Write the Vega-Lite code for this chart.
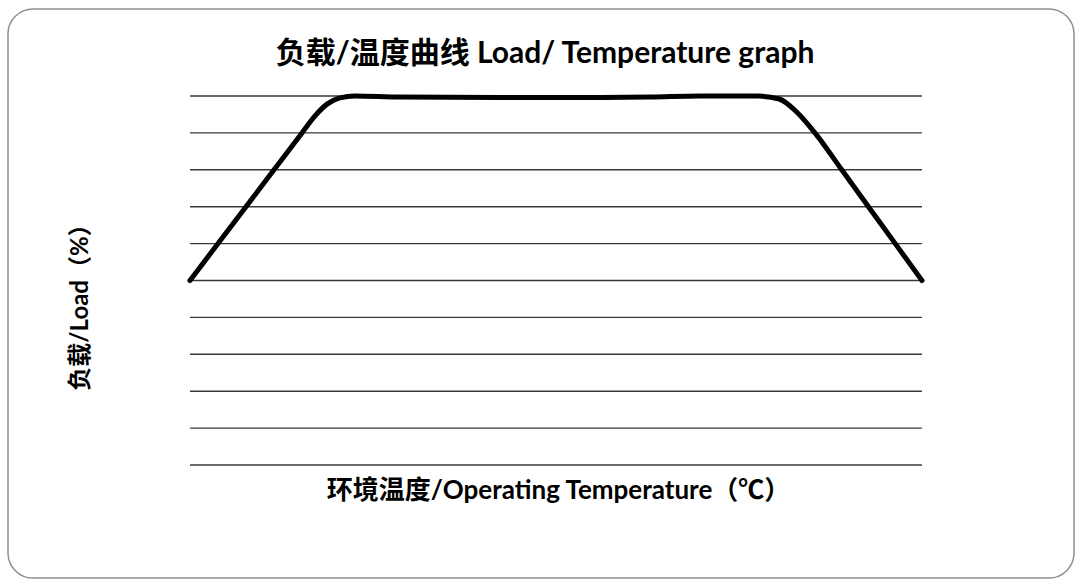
{
  "$schema": "https://vega.github.io/schema/vega-lite/v6.json",
  "width": 1066,
  "height": 569,
  "autosize": "none",
  "padding": {"left": 8, "top": 9, "right": 2, "bottom": 2},
  "background": "white",
  "title": {
    "text": "负载/温度曲线 Load/ Temperature graph",
    "font": "Lato, Noto Sans CJK SC",
    "fontSize": 30,
    "fontWeight": "bold",
    "color": "black",
    "baseline": "middle",
    "offset": -75,
    "dx": 4
  },
  "config": {
    "view": {"stroke": "#8f8f8f", "strokeWidth": 1.5, "cornerRadius": 25}
  },
  "datasets": {
    "levels": [
      {"load": 0}, {"load": 10}, {"load": 20}, {"load": 30}, {"load": 40},
      {"load": 50}, {"load": 60}, {"load": 70}, {"load": 80}, {"load": 90}, {"load": 100}
    ],
    "curve": [
      {"temp": 0, "load": 50},
      {"temp": 3.83, "load": 60},
      {"temp": 7.65, "load": 70},
      {"temp": 11.48, "load": 80},
      {"temp": 15.3, "load": 90},
      {"temp": 17.08, "load": 94.6},
      {"temp": 18.72, "load": 97.8},
      {"temp": 20.49, "load": 99.5},
      {"temp": 22.54, "load": 100},
      {"temp": 28.69, "load": 99.7},
      {"temp": 42.35, "load": 99.6},
      {"temp": 56.01, "load": 99.6},
      {"temp": 62.84, "load": 99.7},
      {"temp": 69.67, "load": 100},
      {"temp": 77.5, "load": 100},
      {"temp": 80.5, "load": 99.2},
      {"temp": 82.92, "load": 95.6},
      {"temp": 85.38, "load": 90},
      {"temp": 89.04, "load": 80},
      {"temp": 92.69, "load": 70},
      {"temp": 96.35, "load": 60},
      {"temp": 100, "load": 50}
    ]
  },
  "layer": [
    {
      "data": {"name": "levels"},
      "mark": {"type": "rule", "color": "#3a3a3a", "strokeWidth": 1.4},
      "encoding": {
        "y": {
          "field": "load", "type": "quantitative",
          "scale": {"domain": [-30.62, 123.58], "nice": false, "zero": false},
          "axis": {
            "title": "负载/Load（%）", "orient": "left",
            "domain": false, "ticks": false, "labels": false, "grid": false,
            "titleFont": "Lato, Noto Sans CJK SC", "titleFontSize": 24, "titleFontWeight": "bold",
            "titleColor": "black", "titleX": 72, "titleY": 292, "titleBaseline": "middle",
            "titleAngle": -90, "titleAlign": "center"
          }
        },
        "x": {
          "datum": 0, "type": "quantitative",
          "scale": {"domain": [-24.86, 120.77], "nice": false, "zero": false},
          "axis": {
            "title": "环境温度/Operating Temperature（℃）",
            "domain": false, "ticks": false, "labels": false, "grid": false,
            "titleFont": "Lato, Noto Sans CJK SC", "titleFontSize": 26, "titleFontWeight": "bold",
            "titleColor": "black", "titleX": 550, "titleY": -88, "titleBaseline": "middle",
            "titleAlign": "center"
          }
        },
        "x2": {"datum": 100}
      }
    },
    {
      "data": {"name": "curve"},
      "mark": {"type": "line", "color": "black", "strokeWidth": 5, "interpolate": "monotone", "strokeCap": "round"},
      "encoding": {
        "x": {
          "field": "temp", "type": "quantitative",
          "axis": {
            "title": "环境温度/Operating Temperature（℃）",
            "domain": false, "ticks": false, "labels": false, "grid": false,
            "titleFont": "Lato, Noto Sans CJK SC", "titleFontSize": 26, "titleFontWeight": "bold",
            "titleColor": "black", "titleX": 550, "titleY": -88, "titleBaseline": "middle",
            "titleAlign": "center"
          }
        },
        "y": {
          "field": "load", "type": "quantitative",
          "axis": {
            "title": "负载/Load（%）", "orient": "left",
            "domain": false, "ticks": false, "labels": false, "grid": false,
            "titleFont": "Lato, Noto Sans CJK SC", "titleFontSize": 24, "titleFontWeight": "bold",
            "titleColor": "black", "titleX": 72, "titleY": 292, "titleBaseline": "middle",
            "titleAngle": -90, "titleAlign": "center"
          }
        }
      }
    }
  ]
}
